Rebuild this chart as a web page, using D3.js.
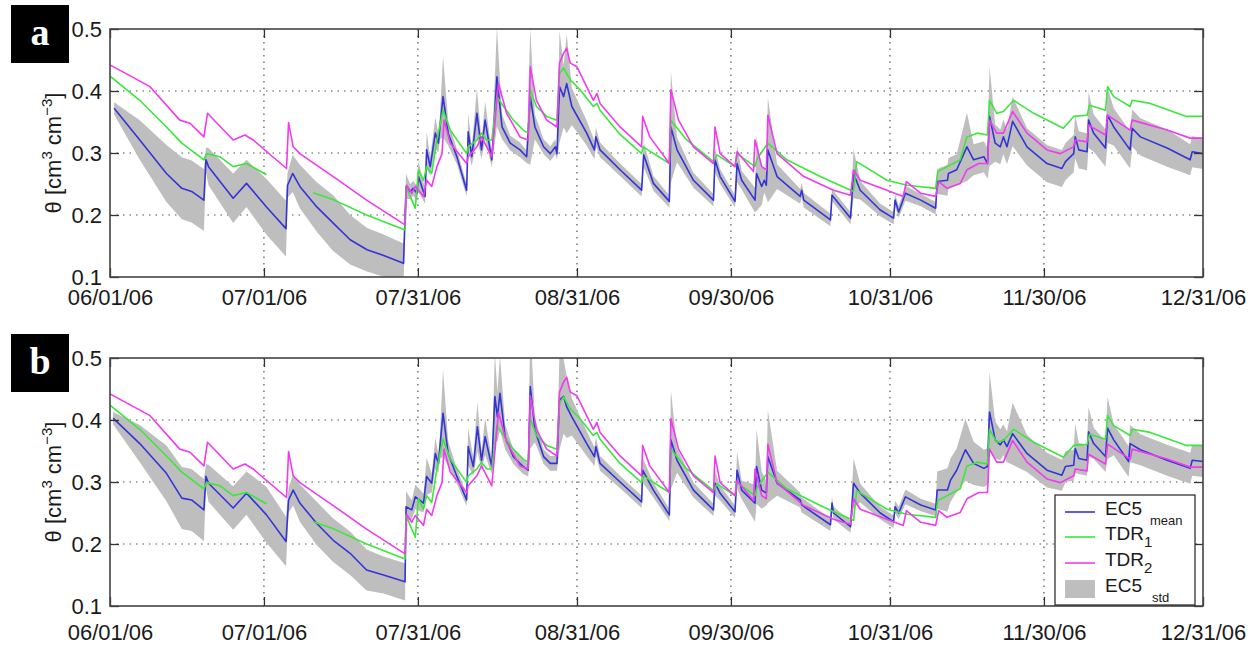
<!DOCTYPE html>
<html>
<head>
<meta charset="utf-8">
<script src="https://cdn.jsdelivr.net/npm/d3@7"></script>
<style>
  body { margin: 0; background: #fff; }
  text { font-family: "Liberation Sans", Arial, sans-serif; }
</style>
</head>
<body>
<svg id="chart" width="1257" height="646"></svg>
<script>
// time axis: days counted from 06/01/06
const startDay = Date.UTC(2006, 5, 1);
const tickDays = [0, 30, 60, 91, 121, 152, 182, 213];
const tickLabels = ["06/01/06", "07/01/06", "07/31/06", "08/31/06", "09/30/06", "10/31/06", "11/30/06", "12/31/06"];
const yTicks = [0.1, 0.2, 0.3, 0.4, 0.5];
const yTickLabels = ["0.1", "0.2", "0.3", "0.4", "0.5"];
const legendLabels = [["EC5", "mean"], ["TDR", "1"], ["TDR", "2"], ["EC5", "std"]];

// TDR1 [day, theta] - same probe in both panels, null = gap
const tdr1 = [[0,0.424],[5.8,0.385],[11.0,0.342],[14.0,0.316],[18.3,0.289],[18.8,0.299],[21.4,0.294],[24.0,0.278],[26.6,0.283],[30.5,0.265],[30.6,null],
  [39.6,0.236],[43.7,0.224],[50.0,0.200],[57.5,0.176],[57.7,0.246],[58.5,0.230],[59.5,0.211],[60.1,0.273],[61.1,0.256],[61.7,0.278],[62.7,0.267],
  [63.7,0.321],[64.9,0.369],[66.3,0.337],[69.5,0.299],[69.8,0.310],[71.5,0.321],[72.4,0.332],[73.4,0.321],[74.4,0.321],[75.4,0.391],[76.7,0.375],
  [78.6,0.353],[80.5,0.337],[81.5,0.332],[81.9,0.402],[83.1,0.375],[85.1,0.359],[87.1,0.353],[87.6,0.428],[88.4,0.437],[89.7,0.418],[91.6,0.402],
  [94.2,0.375],[94.9,0.380],[95.5,0.369],[99.4,0.330],[103.6,0.299],[103.9,0.310],[109.0,0.283],[109.3,0.353],[112.4,0.321],[117.6,0.286],
  [118.3,0.297],[121.8,0.278],[122.2,0.299],[125.7,0.278],[126.0,0.289],[128.2,0.316],[131.9,0.289],[138.4,0.262],[144.9,0.238],[145.5,0.286],
  [151.4,0.256],[155.3,0.248],[160.9,0.243],[161.3,0.270],[165.7,0.289],[167.0,0.326],[169.0,0.332],[171.0,0.329],[171.4,0.385],[172.8,0.364],
  [174.1,0.367],[176.1,0.385],[180.0,0.364],[185.8,0.340],[187.8,0.359],[190.4,0.361],[190.9,0.377],[194.0,0.369],[194.4,0.407],[195.6,0.391],
  [198.8,0.375],[199.2,0.385],[202.7,0.380],[209.8,0.359],[213,0.359]];

// TDR2 [day, theta]
const tdr2 = [[0,0.442],[7.8,0.407],[13.6,0.353],[15.6,0.348],[18.3,0.326],[19.0,0.364],[24.0,0.321],[26.3,0.329],[27.9,0.321],[34.4,0.275],
  [34.8,0.349],[35.7,0.310],[37.0,0.299],[43.5,0.262],[50.0,0.224],[57.5,0.184],[57.8,0.248],[58.8,0.235],[59.5,0.246],[61.1,0.230],[61.7,0.256],
  [62.7,0.246],[63.7,0.278],[64.7,0.299],[65.1,0.353],[66.3,0.316],[69.5,0.283],[69.8,0.294],[71.5,0.310],[72.4,0.326],[74.4,0.294],[75.7,0.412],
  [77.3,0.364],[79.9,0.326],[81.5,0.321],[81.9,0.439],[83.1,0.385],[85.1,0.353],[87.1,0.342],[87.6,0.445],[88.4,0.461],[89.0,0.469],[89.7,0.445],
  [91.0,0.439],[94.2,0.385],[94.9,0.396],[95.5,0.380],[99.4,0.342],[103.6,0.310],[103.8,0.359],[105.2,0.326],[109.0,0.283],[109.3,0.402],
  [110.8,0.353],[113.7,0.310],[117.6,0.283],[117.9,0.342],[118.9,0.299],[121.8,0.278],[122.2,0.302],[125.4,0.270],[125.7,0.321],[127.0,0.278],
  [127.9,0.273],[128.2,0.361],[130.0,0.299],[135.2,0.262],[141.0,0.240],[144.3,0.232],[144.9,0.273],[146.2,0.256],[151.4,0.240],[154.6,0.230],
  [155.2,0.254],[158.0,0.235],[160.9,0.230],[161.5,0.254],[163.1,0.243],[165.7,0.251],[167.0,0.273],[169.3,0.283],[171.0,0.283],[171.4,0.353],
  [172.8,0.332],[174.1,0.332],[175.9,0.367],[178.7,0.332],[182.6,0.305],[185.2,0.299],[187.8,0.310],[188.1,0.321],[190.4,0.318],[190.7,0.345],
  [194.0,0.329],[194.4,0.361],[198.8,0.337],[199.2,0.353],[206.0,0.337],[210.5,0.324],[213,0.324]];

// EC5 panel a [day, mean, std]
const ec5A = [[0.8,0.372,0.01],[5.8,0.321,0.032],[11.0,0.267,0.046],[14.0,0.243,0.05],[15.9,0.238,0.05],[18.3,0.224,0.05],[18.7,0.289,0.02],
  [19.2,0.278,0.03],[24.0,0.227,0.04],[26.6,0.251,0.038],[30.5,0.213,0.045],[34.3,0.178,0.045],[34.6,0.248,0.02],[35.6,0.267,0.03],[37.0,0.246,0.035],
  [40.3,0.213,0.04],[43.5,0.187,0.045],[46.8,0.160,0.04],[50.1,0.144,0.035],[53.2,0.135,0.034],[57.2,0.122,0.032],[57.7,0.246,0.02],[58.5,0.238,0.012],
  [59.1,0.243,0.012],[59.8,0.235,0.012],[60.1,0.262,0.025],[61.4,0.230,0.012],[61.7,0.305,0.03],[62.4,0.278,0.015],[63.4,0.332,0.025],[64.0,0.316,0.015],
  [64.3,0.342,0.02],[64.9,0.391,0.065],[65.9,0.332,0.02],[67.6,0.294,0.012],[69.5,0.240,0.01],[69.8,0.334,0.03],[70.5,0.294,0.015],[71.5,0.364,0.04],
  [72.4,0.305,0.015],[73.1,0.353,0.03],[74.4,0.289,0.012],[75.4,0.423,0.08],[76.4,0.342,0.02],[78.0,0.316,0.012],[79.9,0.305,0.012],[81.2,0.294,0.01],
  [81.9,0.391,0.11],[82.8,0.342,0.02],[84.5,0.310,0.012],[85.8,0.299,0.012],[86.8,0.310,0.012],[87.1,0.299,0.01],[87.6,0.407,0.09],[88.4,0.391,0.05],
  [89.0,0.412,0.08],[90.0,0.375,0.03],[92.9,0.332,0.02],[94.4,0.305,0.015],[94.7,0.326,0.015],[95.5,0.305,0.012],[99.4,0.273,0.01],[103.6,0.240,0.01],
  [104.0,0.297,0.02],[105.9,0.251,0.012],[109.0,0.222,0.01],[109.3,0.342,0.09],[110.5,0.305,0.02],[113.7,0.256,0.012],[117.6,0.224,0.01],
  [117.9,0.289,0.02],[118.9,0.262,0.012],[121.8,0.222,0.01],[122.2,0.283,0.03],[123.1,0.256,0.015],[125.7,0.224,0.02],[126.0,0.267,0.06],
  [127.0,0.246,0.03],[127.5,0.256,0.02],[127.9,0.248,0.02],[128.2,0.305,0.085],[130.0,0.262,0.02],[134.5,0.230,0.012],[134.8,0.240,0.012],
  [135.2,0.224,0.012],[140.4,0.192,0.01],[140.7,0.232,0.01],[144.3,0.195,0.01],[144.9,0.267,0.04],[146.2,0.240,0.015],[150.1,0.208,0.01],
  [152.7,0.195,0.01],[153.0,0.224,0.01],[153.7,0.205,0.01],[155.0,0.235,0.012],[158.0,0.224,0.01],[160.9,0.211,0.01],[161.2,0.254,0.02],
  [163.2,0.256,0.025],[163.4,0.267,0.025],[165.0,0.273,0.025],[167.0,0.310,0.055],[168.3,0.289,0.025],[170.3,0.294,0.025],[171.0,0.283,0.025],
  [171.4,0.359,0.08],[172.5,0.316,0.03],[173.5,0.310,0.028],[174.1,0.326,0.028],[174.8,0.310,0.028],[175.9,0.351,0.04],[178.7,0.310,0.03],
  [182.6,0.283,0.03],[185.5,0.275,0.03],[186.2,0.286,0.03],[187.8,0.299,0.03],[188.1,0.326,0.035],[188.8,0.305,0.03],[190.4,0.302,0.03],
  [190.7,0.353,0.045],[191.7,0.332,0.03],[194.0,0.308,0.03],[194.4,0.361,0.045],[195.6,0.342,0.03],[198.8,0.305,0.03],[199.2,0.340,0.03],
  [200.8,0.326,0.03],[206.0,0.308,0.03],[210.5,0.289,0.025],[210.9,0.302,0.025],[213,0.299,0.025]];

// EC5 panel b [day, mean, std]
const ec5B = [[0.6,0.403,0.01],[5.8,0.362,0.03],[11.0,0.314,0.045],[14.0,0.274,0.05],[15.9,0.271,0.05],[18.3,0.255,0.05],[18.7,0.309,0.02],
  [19.2,0.298,0.03],[24.0,0.258,0.035],[26.6,0.282,0.035],[30.5,0.247,0.045],[34.3,0.204,0.04],[34.8,0.271,0.02],[35.7,0.287,0.025],[37.0,0.266,0.03],
  [40.3,0.233,0.035],[43.5,0.206,0.035],[46.8,0.185,0.035],[50.0,0.158,0.033],[53.3,0.150,0.03],[57.5,0.139,0.03],[57.7,0.260,0.025],[58.8,0.255,0.015],
  [59.5,0.276,0.02],[61.1,0.266,0.015],[61.7,0.309,0.03],[62.7,0.298,0.015],[63.4,0.346,0.025],[64.0,0.330,0.015],[64.3,0.357,0.02],[64.9,0.411,0.07],
  [65.9,0.346,0.02],[67.6,0.309,0.012],[69.5,0.271,0.01],[69.8,0.357,0.03],[70.8,0.325,0.015],[71.6,0.389,0.04],[72.4,0.335,0.015],[73.1,0.373,0.03],
  [74.4,0.325,0.012],[75.0,0.438,0.07],[75.5,0.405,0.04],[76.0,0.443,0.06],[77.0,0.373,0.02],[78.6,0.341,0.012],[80.5,0.325,0.012],[81.5,0.319,0.01],
  [81.9,0.454,0.1],[82.8,0.384,0.02],[84.5,0.341,0.012],[85.8,0.330,0.012],[87.1,0.330,0.012],[87.6,0.432,0.08],[88.4,0.438,0.06],[89.0,0.421,0.05],
  [90.0,0.405,0.03],[92.9,0.362,0.02],[94.4,0.341,0.015],[94.7,0.357,0.015],[95.5,0.330,0.012],[99.4,0.300,0.01],[103.6,0.268,0.01],[103.8,0.319,0.02],
  [105.9,0.287,0.012],[109.0,0.247,0.01],[109.3,0.368,0.08],[110.5,0.335,0.02],[113.7,0.287,0.012],[117.6,0.255,0.01],[117.9,0.298,0.02],
  [118.9,0.282,0.012],[121.8,0.252,0.01],[122.2,0.319,0.03],[123.1,0.287,0.015],[125.7,0.266,0.03],[126.0,0.325,0.06],[127.0,0.287,0.03],
  [127.9,0.282,0.02],[128.2,0.341,0.075],[130.0,0.298,0.02],[134.5,0.271,0.012],[134.8,0.263,0.012],[140.4,0.231,0.01],[140.7,0.266,0.01],
  [141.0,0.250,0.01],[144.3,0.228,0.01],[144.9,0.298,0.04],[146.2,0.282,0.015],[150.1,0.250,0.01],[152.7,0.236,0.01],[153.0,0.260,0.01],
  [153.7,0.250,0.01],[155.0,0.276,0.012],[158.0,0.263,0.01],[160.9,0.255,0.01],[161.2,0.287,0.03],[163.2,0.287,0.035],[163.8,0.303,0.035],
  [165.0,0.319,0.035],[166.7,0.352,0.05],[168.3,0.330,0.035],[170.3,0.322,0.03],[171.0,0.325,0.03],[171.4,0.413,0.065],[172.5,0.368,0.03],
  [173.5,0.360,0.025],[174.1,0.368,0.025],[174.8,0.357,0.025],[175.9,0.378,0.05],[178.7,0.346,0.03],[182.6,0.319,0.028],[185.5,0.311,0.025],
  [186.2,0.325,0.025],[187.8,0.327,0.025],[188.1,0.354,0.04],[188.8,0.338,0.025],[190.4,0.335,0.025],[190.7,0.381,0.04],[191.7,0.362,0.025],
  [194.0,0.341,0.025],[194.4,0.387,0.05],[195.6,0.368,0.025],[198.5,0.333,0.025],[198.8,0.362,0.03],[200.8,0.352,0.025],[206.0,0.335,0.025],
  [210.5,0.322,0.025],[210.9,0.335,0.025],[213,0.333,0.025]];

const colors = { ec5: "#3434d6", tdr1: "#3de63d", tdr2: "#ee3cee", std: "#bebebe" };
const toDate = d => new Date(startDay + d * 864e5);

const svg = d3.select("#chart");
const left = 110, right = 1203;
const x = d3.scaleUtc().domain([toDate(0), toDate(213)]).range([left, right]);

const panels = [
  { top: 29, bottom: 277, label: "a", ec5: ec5A, labelPad: 12, legend: false },
  { top: 358, bottom: 606, label: "b", ec5: ec5B, labelPad: 18, legend: true }
];

panels.forEach(function(p, i) {
  const y = d3.scaleLinear().domain([0.1, 0.5]).range([p.bottom, p.top]);
  const g = svg.append("g");

  svg.append("clipPath").attr("id", "clip" + i)
    .append("rect")
      .attr("x", left).attr("y", p.top)
      .attr("width", right - left).attr("height", p.bottom - p.top);

  // dotted grid
  g.selectAll(".vgrid").data(tickDays.slice(1, -1)).enter()
    .append("line")
      .attr("x1", d => x(toDate(d))).attr("x2", d => x(toDate(d)))
      .attr("y1", p.top).attr("y2", p.bottom)
      .attr("stroke", "#555").attr("stroke-width", 1.2)
      .attr("stroke-dasharray", "1.5,5");
  g.selectAll(".hgrid").data(yTicks.slice(1, -1)).enter()
    .append("line")
      .attr("x1", left).attr("x2", right)
      .attr("y1", d => y(d)).attr("y2", d => y(d))
      .attr("stroke", "#555").attr("stroke-width", 1.2)
      .attr("stroke-dasharray", "1.5,5");

  const plot = g.append("g").attr("clip-path", "url(#clip" + i + ")");

  const band = d3.area()
    .x(d => x(toDate(d[0])))
    .y0(d => y(d[1] - d[2]))
    .y1(d => y(d[1] + d[2]));
  plot.append("path").datum(p.ec5)
    .attr("d", band).attr("fill", colors.std);

  const line = d3.line()
    .defined(d => d[1] != null)
    .x(d => x(toDate(d[0])))
    .y(d => y(d[1]));

  [[p.ec5, colors.ec5], [tdr1, colors.tdr1], [tdr2, colors.tdr2]].forEach(function(s) {
    plot.append("path").datum(s[0])
      .attr("d", line)
      .attr("fill", "none")
      .attr("stroke", s[1])
      .attr("stroke-width", 1.6)
      .attr("stroke-linejoin", "round");
  });

  // box and inward ticks, MATLAB style
  const tickVals = tickDays.map(toDate);
  const axB = g.append("g").attr("transform", "translate(0," + p.bottom + ")")
    .call(d3.axisBottom(x).tickValues(tickVals).tickSize(-9).tickPadding(p.labelPad)
      .tickFormat((d, k) => tickLabels[k]));
  const axT = g.append("g").attr("transform", "translate(0," + p.top + ")")
    .call(d3.axisTop(x).tickValues(tickVals).tickSize(-9).tickFormat(""));
  const axL = g.append("g").attr("transform", "translate(" + left + ",0)")
    .call(d3.axisLeft(y).tickValues(yTicks).tickSize(-9).tickPadding(8)
      .tickFormat((d, k) => yTickLabels[k]));
  const axR = g.append("g").attr("transform", "translate(" + right + ",0)")
    .call(d3.axisRight(y).tickValues(yTicks).tickSize(-9).tickFormat(""));

  [axB, axT, axL, axR].forEach(function(a) {
    a.select(".domain").remove();
    a.selectAll("line").attr("stroke", "#333").attr("stroke-width", 1.3);
    a.selectAll("text")
      .attr("fill", "#1a1a1a")
      .style("font-size", "22px")
      .style("font-family", "'Liberation Sans', Arial, sans-serif");
  });

  g.append("rect")
    .attr("x", left).attr("y", p.top)
    .attr("width", right - left).attr("height", p.bottom - p.top)
    .attr("fill", "none").attr("stroke", "#444").attr("stroke-width", 1.6);

  // y label
  const yl = g.append("text")
    .attr("transform", "translate(61," + (p.top + p.bottom) / 2 + ") rotate(-90)")
    .attr("text-anchor", "middle")
    .attr("fill", "#1a1a1a")
    .style("font-size", "22px");
  yl.append("tspan").text("\u03b8 [cm");
  yl.append("tspan").attr("dy", -9).style("font-size", "15px").text("3");
  yl.append("tspan").attr("dy", 9).text(" cm");
  yl.append("tspan").attr("dy", -9).style("font-size", "15px").text("\u22123");
  yl.append("tspan").attr("dy", 9).text("]");

  // panel letter
  g.append("rect")
    .attr("x", 11).attr("y", p.top - 24)
    .attr("width", 58).attr("height", 58)
    .attr("fill", "#000");
  g.append("text")
    .attr("x", 40).attr("y", p.top + 16)
    .attr("text-anchor", "middle")
    .attr("fill", "#fff")
    .style("font-family", "'Liberation Serif', 'Times New Roman', serif")
    .style("font-weight", "bold")
    .style("font-size", "38px")
    .text(p.label);

  if (p.legend) {
    const lg = g.append("g");
    lg.append("rect")
      .attr("x", 1055).attr("y", 495).attr("width", 140).attr("height", 110)
      .attr("fill", "#fff").attr("stroke", "#222").attr("stroke-width", 1.2);
    const rows = [512, 537, 563, 589];
    const keyColors = [colors.ec5, colors.tdr1, colors.tdr2];
    keyColors.forEach(function(c, k) {
      lg.append("line")
        .attr("x1", 1065).attr("x2", 1095)
        .attr("y1", rows[k]).attr("y2", rows[k])
        .attr("stroke", c).attr("stroke-width", 1.6);
    });
    lg.append("rect")
      .attr("x", 1065).attr("y", 580).attr("width", 30).attr("height", 18)
      .attr("fill", colors.std);
    const subGap = [8, 0, 0, 10];
    legendLabels.forEach(function(l, k) {
      const t = lg.append("text")
        .attr("x", 1105).attr("y", rows[k] + 3)
        .attr("fill", "#1a1a1a")
        .style("font-size", "19px");
      t.append("tspan").text(l[0]);
      t.append("tspan")
        .attr("dx", subGap[k]).attr("dy", l[1].length > 1 ? 10 : 7)
        .style("font-size", l[1].length > 1 ? "13px" : "15px")
        .text(l[1]);
    });
  }
});
</script>
</body>
</html>
